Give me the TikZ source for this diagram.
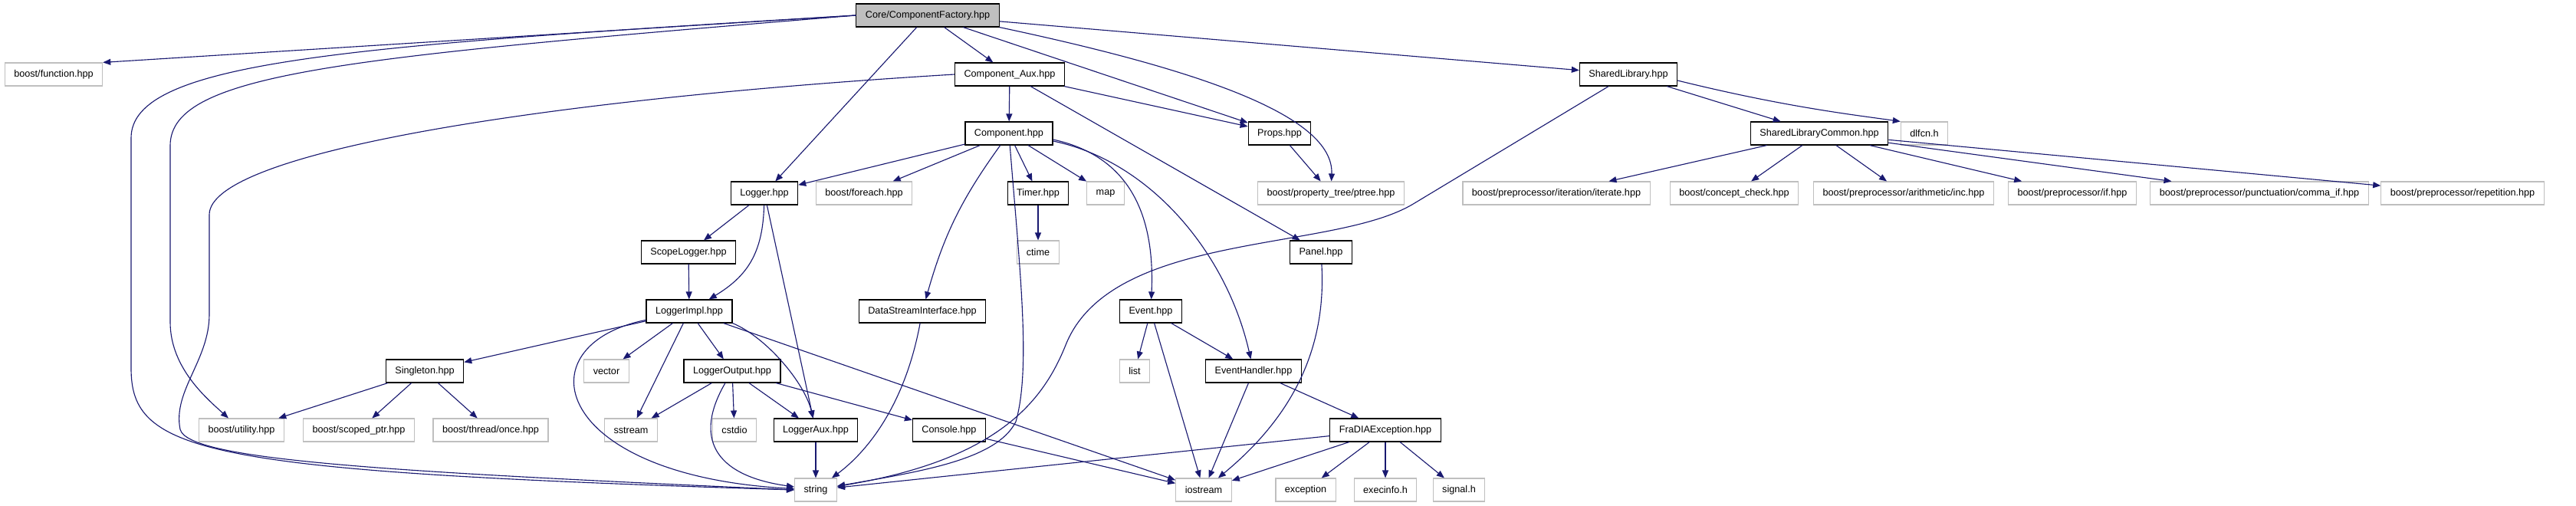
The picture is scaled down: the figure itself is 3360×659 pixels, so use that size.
\documentclass[tikz,border=0pt]{standalone}
\usepackage{fontspec}
\setmainfont{Liberation Sans}
\usepackage{tikz}
\usetikzlibrary{arrows.meta}
\definecolor{edgeblue}{HTML}{191970}
\definecolor{boxgrey}{HTML}{BFBFBF}

\begin{document}
\begin{tikzpicture}[x=0.25mm,y=-0.25mm,
    font=\fontsize{9}{10}\selectfont,
    hdr/.style={draw=black,line width=0.8pt,minimum height=7.5mm,inner xsep=3mm,inner ysep=0pt},
    syshdr/.style={hdr,draw=boxgrey},
    mainhdr/.style={hdr,fill=boxgrey},
    incl/.style={draw=edgeblue,line width=0.8pt,-{Stealth[length=2.5mm,width=2mm,inset=0pt]}}]
    \useasboundingbox (0,0) rectangle (3360,659);
    \node[mainhdr] (cf) at (1210,20) {Core/ComponentFactory.hpp};
    \node[syshdr] (bfunc) at (70,97) {boost/function.hpp};
    \node[hdr] (caux) at (1317,97) {Component\_Aux.hpp};
    \node[hdr] (shlib) at (2124,97) {SharedLibrary.hpp};
    \node[hdr] (comp) at (1316,174) {Component.hpp};
    \node[hdr] (props) at (1669,174) {Props.hpp};
    \node[hdr] (shlc) at (2373,174) {SharedLibraryCommon.hpp};
    \node[syshdr] (dlfcn) at (2510,174) {dlfcn.h};
    \node[hdr] (logger) at (997,252) {Logger.hpp};
    \node[syshdr] (foreach) at (1127,252) {boost/foreach.hpp};
    \node[hdr] (timer) at (1354,252) {Timer.hpp};
    \node[syshdr] (map) at (1442,252) {map};
    \node[syshdr] (ptree) at (1736,252) {boost/property\_tree/ptree.hpp};
    \node[syshdr] (iterate) at (2030,252) {boost/preprocessor/iteration/iterate.hpp};
    \node[syshdr] (concept) at (2262,252) {boost/concept\_check.hpp};
    \node[syshdr] (arinc) at (2483,252) {boost/preprocessor/arithmetic/inc.hpp};
    \node[syshdr] (ppif) at (2703,252) {boost/preprocessor/if.hpp};
    \node[syshdr] (commaif) at (2947,252) {boost/preprocessor/punctuation/comma\_if.hpp};
    \node[syshdr] (repet) at (3212,252) {boost/preprocessor/repetition.hpp};
    \node[hdr] (scopelog) at (898,329) {ScopeLogger.hpp};
    \node[syshdr] (ctime) at (1354,329) {ctime};
    \node[hdr] (panel) at (1723,329) {Panel.hpp};
    \node[hdr] (logimpl) at (899,406) {LoggerImpl.hpp};
    \node[hdr] (dsi) at (1203,406) {DataStreamInterface.hpp};
    \node[hdr] (event) at (1501,406) {Event.hpp};
    \node[hdr] (singleton) at (554,484) {Singleton.hpp};
    \node[syshdr] (vector) at (791,484) {vector};
    \node[hdr] (logout) at (955,484) {LoggerOutput.hpp};
    \node[syshdr] (list) at (1480,484) {list};
    \node[hdr] (evhandler) at (1635,484) {EventHandler.hpp};
    \node[syshdr] (butil) at (315,561) {boost/utility.hpp};
    \node[syshdr] (scoped) at (468,561) {boost/scoped\_ptr.hpp};
    \node[syshdr] (once) at (640,561) {boost/thread/once.hpp};
    \node[syshdr] (sstream) at (823,561) {sstream};
    \node[syshdr] (cstdio) at (958,561) {cstdio};
    \node[hdr] (logaux) at (1064,561) {LoggerAux.hpp};
    \node[hdr] (console) at (1238,561) {Console.hpp};
    \node[hdr] (fradia) at (1807,561) {FraDIAException.hpp};
    \node[syshdr] (string) at (1064,639) {string};
    \node[syshdr] (iostream) at (1570,639) {iostream};
    \node[syshdr] (exception) at (1703,639) {exception};
    \node[syshdr] (execinfo) at (1807,639) {execinfo.h};
    \node[syshdr] (signal) at (1903,639) {signal.h};
    % ComponentFactory
    \draw[incl] (cf.west) -- (bfunc.north east);
    \draw[incl] (cf.west) .. controls (450,60) and (171,80) .. (171,180) -- (171,480) .. controls (171,590) and (260,615) .. (string.west);
    \draw[incl] (cf.west) .. controls (450,75) and (222,95) .. (222,190) -- (222,420) .. controls (222,480) and (270,520) .. (butil);
    \draw[incl] (cf) -- (logger);
    \draw[incl] (cf) -- (caux);
    \draw[incl] (cf) -- (props);
    \draw[incl] (cf.south east) .. controls (1560,90) and (1740,150) .. (ptree);
    \draw[incl] (cf) -- (shlib);
    % Component_Aux
    \draw[incl] (caux.west) .. controls (700,130) and (273,200) .. (273,280) -- (273,410) .. controls (273,470) and (225,510) .. (235,560) .. controls (245,600) and (500,615) .. (string.west);
    \draw[incl] (caux) -- (comp);
    \draw[incl] (caux) -- (props);
    \draw[incl] (caux) -- (panel);
    % Component
    \draw[incl] (comp) -- (logger);
    \draw[incl] (comp) -- (foreach);
    \draw[incl] (comp) -- (timer);
    \draw[incl] (comp) -- (map);
    \draw[incl] (comp) to[bend right=10] (dsi);
    \draw[incl] (comp) .. controls (1330,350) and (1345,480) .. (1325,550) .. controls (1300,600) and (1200,615) .. (string);
    \draw[incl] ([yshift=-2mm]comp.east) .. controls (1480,205) and (1506,290) .. (event);
    \draw[incl] ([yshift=-2.5mm]comp.east) .. controls (1500,210) and (1600,330) .. (evhandler);
    \draw[incl] (props) -- (ptree);
    % SharedLibrary
    \draw[incl] (shlib) -- (shlc);
    \draw[incl] ([yshift=-2mm]shlib.east) .. controls (2330,140) and (2420,150) .. (dlfcn.north west);
    \draw[incl] (shlib) -- (1845,265) .. controls (1740,330) and (1450,300) .. (1390,450) .. controls (1360,525) and (1300,600) .. (string);
    \draw[incl] (shlc) -- (iterate);
    \draw[incl] (shlc) -- (concept);
    \draw[incl] (shlc) -- (arinc);
    \draw[incl] (shlc) -- (ppif);
    \draw[incl] (shlc) -- (commaif);
    \draw[incl] (shlc) -- (repet);
    \draw[incl] (timer) -- (ctime);
    \draw[incl] (panel) .. controls (1730,450) and (1690,540) .. (iostream);
    % Logger
    \draw[incl] (logger) -- (scopelog);
    \draw[incl] (logger) .. controls (995,330) and (975,360) .. (logimpl);
    \draw[incl] (logger) -- (logaux);
    \draw[incl] (scopelog) -- (logimpl);
    \draw[incl] (logimpl) -- (singleton);
    \draw[incl] (logimpl) -- (vector);
    \draw[incl] (logimpl) -- (sstream);
    \draw[incl] (logimpl) -- (logout);
    \draw[incl] (logimpl.south east) .. controls (1000,440) and (1050,500) .. (logaux);
    \draw[incl] (logimpl) -- (iostream);
    \draw[incl] (logimpl) .. controls (680,450) and (720,620) .. (string);
    \draw[incl] (singleton) -- (butil);
    \draw[incl] (singleton) -- (scoped);
    \draw[incl] (singleton) -- (once);
    \draw[incl] (logout) -- (sstream);
    \draw[incl] (logout) .. controls (905,570) and (930,620) .. (string);
    \draw[incl] (logout) -- (cstdio);
    \draw[incl] (logout) -- (logaux);
    \draw[incl] (logout) -- (console);
    \draw[incl] (logaux) -- (string);
    \draw[incl] (dsi) .. controls (1180,530) and (1130,590) .. (string);
    \draw[incl] (console) -- (iostream);
    % Event
    \draw[incl] (event) -- (list);
    \draw[incl] (event) -- (iostream);
    \draw[incl] (event) -- (evhandler);
    \draw[incl] (evhandler) -- (iostream);
    \draw[incl] (evhandler) -- (fradia);
    \draw[incl] (fradia) -- (string);
    \draw[incl] (fradia) -- (iostream);
    \draw[incl] (fradia) -- (exception);
    \draw[incl] (fradia) -- (execinfo);
    \draw[incl] (fradia) -- (signal);
\end{tikzpicture}
\end{document}
